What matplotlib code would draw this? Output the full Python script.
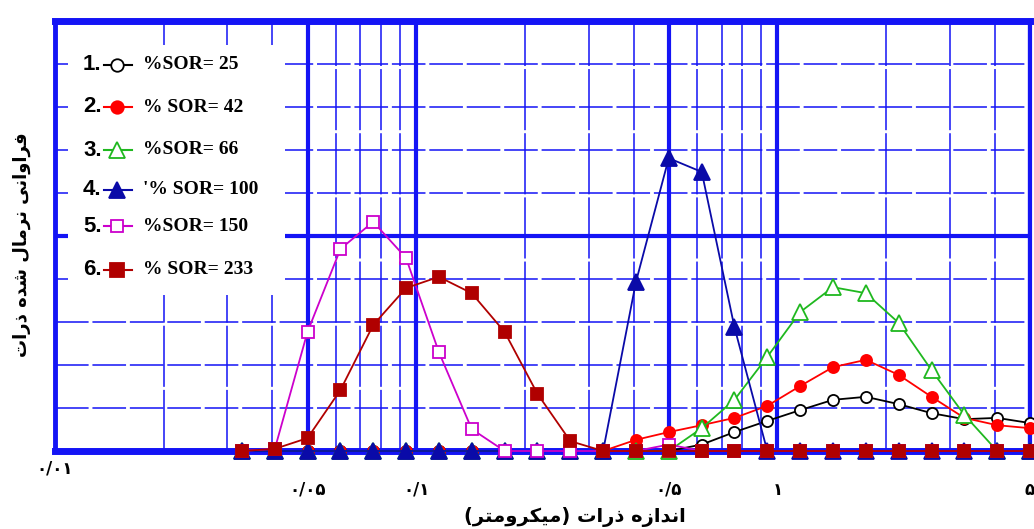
import matplotlib
matplotlib.use("Agg")
import matplotlib.pyplot as plt
from matplotlib.lines import Line2D
from matplotlib.patches import Rectangle
from matplotlib.ticker import FixedLocator, NullFormatter

# particle size bins (micrometre)
sizes = [0.0329, 0.0406, 0.05, 0.0617, 0.076, 0.0937, 0.1155, 0.1424, 0.1756,
         0.2165, 0.267, 0.329, 0.4056, 0.5, 0.617, 0.76, 0.937, 1.155, 1.424,
         1.756, 2.165, 2.669, 3.29, 4.056, 5.0]

sor_25 = [0, 0, 0, 0, 0, 0, 0, 0, 0, 0, 0, 0, 0, 0, 0.15, 0.44, 0.70, 0.95,
          1.19, 1.26, 1.09, 0.88, 0.74, 0.77, 0.65]
sor_42 = [0, 0, 0, 0, 0, 0, 0, 0, 0, 0, 0, 0, 0.26, 0.44, 0.60, 0.77, 1.05,
          1.51, 1.95, 2.12, 1.77, 1.26, 0.77, 0.60, 0.53]
sor_66 = [0, 0, 0, 0, 0, 0, 0, 0, 0, 0, 0, 0, 0, 0, 0.53, 1.19, 2.19, 3.23,
          3.81, 3.67, 2.98, 1.88, 0.84, 0, 0]
sor_100 = [0, 0, 0, 0, 0, 0, 0, 0, 0, 0, 0, 0, 3.93, 6.81, 6.49, 2.88, 0, 0,
           0, 0, 0, 0, 0, 0, 0]
sor_150 = [0, 0.05, 2.77, 4.70, 5.33, 4.49, 2.30, 0.51, 0, 0, 0, 0, 0, 0.15,
           0, 0, 0, 0, 0, 0, 0, 0, 0, 0, 0]
sor_233 = [0, 0.05, 0.30, 1.42, 2.93, 3.79, 4.05, 3.67, 2.77, 1.33, 0.23, 0,
           0, 0, 0, 0, 0, 0, 0, 0, 0, 0, 0, 0, 0]

series = [sor_25, sor_42, sor_66, sor_100, sor_150, sor_233]
legend_nums = ["1.", "2.", "3.", "4.", "5.", "6."]
legend_labels = ["%SOR= 25", "% SOR= 42", "%SOR= 66", "'% SOR= 100",
                 "%SOR= 150", "% SOR= 233"]

tick_values = [0.05, 0.1, 0.5, 1, 5]
tick_labels = ["۰/۰۵", "۰/۱", "۰/۵", "۱", "۵"]
first_tick_label = "۰/۰۱"

x_title = "اندازه ذرات (میکرومتر)"
y_title = "فراوانی نرمال شده ذرات"

# (color, marker, face, size)
styles = [
    ("black", "o", "white", 8),
    ("#ff0000", "o", "#ff0000", 8),
    ("#1fb81f", "^", "white", 11),
    ("#0a0aa8", "^", "#0a0aa8", 11),
    ("#cc00cc", "s", "white", 8),
    ("#b00000", "s", "#b00000", 9),
]

GRID = "#1414f5"

# no text shaping in matplotlib: pick the presentation forms by hand
FORMS = {
    "ا": ("\uFE8D", "\uFE8E"), "د": ("\uFEA9", "\uFEAA"),
    "ذ": ("\uFEAB", "\uFEAC"), "ر": ("\uFEAD", "\uFEAE"),
    "ز": ("\uFEAF", "\uFEB0"), "و": ("\uFEED", "\uFEEE"),
    "ن": ("\uFEE5", "\uFEE6", "\uFEE7", "\uFEE8"),
    "ه": ("\uFEE9", "\uFEEA", "\uFEEB", "\uFEEC"),
    "ت": ("\uFE95", "\uFE96", "\uFE97", "\uFE98"),
    "م": ("\uFEE1", "\uFEE2", "\uFEE3", "\uFEE4"),
    "ی": ("\uFBFC", "\uFBFD", "\uFBFE", "\uFBFF"),
    "ک": ("\uFB8E", "\uFB8F", "\uFB90", "\uFB91"),
    "ف": ("\uFED1", "\uFED2", "\uFED3", "\uFED4"),
    "ل": ("\uFEDD", "\uFEDE", "\uFEDF", "\uFEE0"),
    "ش": ("\uFEB5", "\uFEB6", "\uFEB7", "\uFEB8"),
}


def rtl(text):
    out = []
    for i, ch in enumerate(text):
        if ch not in FORMS:
            out.append(ch)
            continue
        prev = text[i - 1] if i > 0 else ""
        nxt = text[i + 1] if i + 1 < len(text) else ""
        jp = prev in FORMS and len(FORMS[prev]) == 4
        jn = nxt in FORMS and len(FORMS[ch]) == 4
        f = FORMS[ch]
        if jp and jn:
            out.append(f[3])
        elif jp:
            out.append(f[1])
        elif jn:
            out.append(f[2])
        else:
            out.append(f[0])
    s = "".join(out)[::-1]
    return s.translate(str.maketrans("()", ")("))


fig = plt.figure(figsize=(10.34, 5.29), dpi=100)
ax = fig.add_axes([55 / 1034, 1 - 451 / 529, 975 / 1034, 430 / 529])

ax.set_xscale("log")
ax.set_xlim(0.01, 5.0)
ax.set_ylim(0, 10)

# grid
ax.xaxis.set_major_locator(FixedLocator([0.01] + tick_values))
ax.xaxis.set_minor_locator(FixedLocator(
    [0.02, 0.03, 0.04, 0.06, 0.07, 0.08, 0.09, 0.2, 0.3, 0.4,
     0.6, 0.7, 0.8, 0.9, 2, 3, 4]))
ax.xaxis.set_major_formatter(NullFormatter())
ax.xaxis.set_minor_formatter(NullFormatter())
ax.yaxis.set_major_locator(FixedLocator([5]))
ax.yaxis.set_minor_locator(FixedLocator([1, 2, 3, 4, 6, 7, 8, 9]))
ax.yaxis.set_major_formatter(NullFormatter())
ax.yaxis.set_minor_formatter(NullFormatter())
ax.tick_params(which="both", length=0)

ax.xaxis.grid(True, which="major", color=GRID, lw=3)
ax.yaxis.grid(True, which="major", color=GRID, lw=3)
ax.xaxis.grid(True, which="minor", color=GRID, lw=1.1, dashes=(40, 2))
ax.yaxis.grid(True, which="minor", color=GRID, lw=1.1, dashes=(22, 2.5))
ax.set_axisbelow(True)

for side, w in [("bottom", 5), ("top", 5), ("left", 3.5), ("right", 3)]:
    ax.spines[side].set_color(GRID)
    ax.spines[side].set_linewidth(w)

# white area behind the legend
ax.add_patch(Rectangle((0.0133, 0.363), 0.223, 0.581, transform=ax.transAxes,
                       facecolor="white", edgecolor="none", zorder=1))

for i, (vals, (c, m, fc, ms)) in enumerate(zip(series, styles)):
    ax.plot(sizes, vals, color=c, marker=m, markerfacecolor=fc,
            markeredgecolor=c, markersize=ms, markeredgewidth=1.3, lw=1.3,
            clip_on=False, zorder=3 + i)

# legend drawn by hand (numbers sit in front of the handles)
row_y = [0.898, 0.800, 0.700, 0.607, 0.523, 0.421]
for num, lab, (c, m, fc, ms), y in zip(legend_nums, legend_labels, styles, row_y):
    ax.text(0.0287, y, num, transform=ax.transAxes, ha="left", va="center",
            fontsize=16, fontweight="bold", family="Liberation Sans", zorder=10)
    ax.add_line(Line2D([0.0503, 0.079], [y, y], transform=ax.transAxes,
                       color=c, lw=1.5, zorder=10))
    ax.add_line(Line2D([0.0636], [y], transform=ax.transAxes, color=c,
                       marker=m, markerfacecolor=fc, markeredgecolor=c,
                       markersize=ms + 1, markeredgewidth=1.3, zorder=11))
    ax.text(0.0903, y, lab, transform=ax.transAxes, ha="left", va="center",
            fontsize=14, fontweight="bold", family="Liberation Serif", zorder=10)

# tick labels
trans = ax.get_xaxis_transform()
for v, lab in zip(tick_values, tick_labels):
    ax.text(v, -0.09, lab, transform=trans, ha="center", va="center",
            fontsize=12, fontweight="bold", family="DejaVu Sans")
ax.text(0.01, -0.04, first_tick_label, transform=trans, ha="center",
        va="center", fontsize=12, fontweight="bold", family="DejaVu Sans")

fig.text(575 / 1034, 1 - 517 / 529, rtl(x_title), ha="center", va="center",
         fontsize=14, fontweight="bold", family="DejaVu Sans")
fig.text(22 / 1034, 1 - 245 / 529, rtl(y_title), ha="center", va="center",
         rotation=90, fontsize=13, fontweight="bold", family="DejaVu Sans")

fig.savefig("out.png", dpi=100)
